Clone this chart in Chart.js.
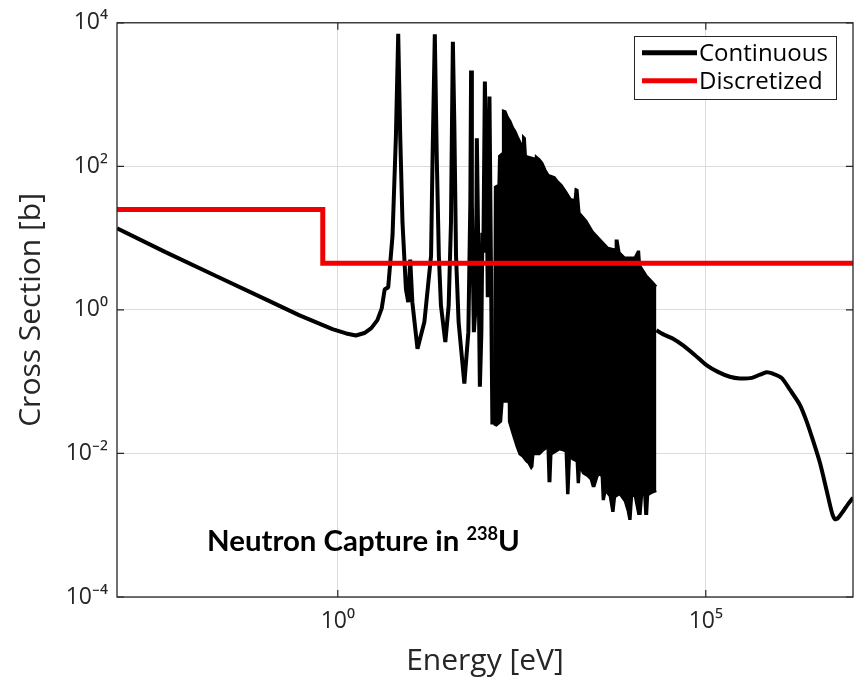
<!DOCTYPE html>
<html>
<head>
<meta charset="utf-8">
<script src="https://cdn.jsdelivr.net/npm/chart.js@4/dist/chart.umd.min.js"></script>
<style>
html,body{margin:0;padding:0;background:#fff;}
#wrap{width:858px;height:679px;}
</style>
</head>
<body>
<div id="wrap"><canvas id="c" width="858" height="679"></canvas></div>
<script>
// ---- Data (energy in eV, cross section in barns) ----
// Continuous: thermal 1/v region and the first isolated resonances
const lowE  = [1e-3, 4.56e-3, 0.0218, 0.105, 0.297, 0.845, 1.3, 1.76, 2.3, 2.85, 3.45, 3.95, 4.34, 4.84, 5.54, 6.16, 6.62, 7.05, 7.57, 8.43, 9.06, 9.64, 10.3, 12.1, 15.0, 18.5, 19.4, 20.8, 22.1, 23.6, 25.2, 28.9, 32.1, 34.5, 35.6, 36.6, 38.3, 40.4, 43.8, 52.4, 59.4, 63.2, 64.7, 66.3, 70.6, 75.2, 77.5, 81.2, 85.2, 89.3, 92.1, 95.0, 99.6, 106, 109, 115, 120, 126];
const lowXS = [13.7, 6.38, 2.99, 1.40, 0.845, 0.54, 0.47, 0.44, 0.476, 0.557, 0.72, 1.05, 1.94, 2.06, 10.8, 263, 7020, 263, 16.4, 1.95, 1.28, 5.04, 1.28, 0.288, 0.676, 5.67, 138, 6900, 138, 5.67, 1.15, 0.357, 1.15, 16.4, 399, 5430, 399, 5.67, 0.676, 0.094, 0.49, 31, 2160, 31, 0.49, 1.28, 247, 6.3, 0.085, 0.49, 11.9, 6.3, 1520, 31, 1.5, 942, 6.3, 0.0253];
// Continuous: dense resolved-resonance band, upper envelope
const topE  = [132, 136, 152, 155, 173, 175, 190, 205, 222, 240, 259, 281, 308, 313, 323, 328, 349, 360, 463, 470, 482, 490, 550, 604, 664, 729, 880, 966, 1096, 1243, 1453, 1648, 1700, 1811, 1928, 2377, 2924, 3802, 4677, 5861, 5955, 6339, 6745, 7889, 10800, 11870, 12440, 12830, 15590, 19180, 21330];
const topXS = [0.0253, 51.7, 55.1, 139, 153, 602, 583, 482, 424, 350, 308, 255, 210, 31, 31, 263, 247, 139, 130, 47, 47, 139, 126, 111, 88.9, 75.8, 71.1, 62.6, 55.1, 45.5, 35.2, 34.1, 48.5, 47, 22.5, 17.5, 12.3, 9.23, 7.38, 6.93, 9.23, 9.23, 6.30, 5.37, 5.37, 6.50, 6.50, 4.16, 3.03, 2.42, 2.13];
// Continuous: dense resolved-resonance band, lower envelope
const botE  = [132, 143, 166, 174, 199, 202, 208, 211, 238, 268, 294, 323, 362, 390, 424, 442, 456, 550, 604, 678, 706, 729, 776, 801, 1030, 1243, 1302, 1365, 1431, 1548, 1754, 1811, 1897, 1958, 2138, 2477, 2722, 2897, 3083, 3388, 3606, 3838, 3963, 4150, 4355, 4932, 5333, 5598, 5861, 6745, 7889, 8670, 9090, 9530, 9990, 10800, 12050, 13030, 13670, 14550, 15010, 15990, 16490, 18230, 21330];
const botXS = [0.0253, 0.0245, 0.0278, 0.0527, 0.0527, 0.177, 0.177, 0.0278, 0.0184, 0.0125, 0.00972, 0.00912, 0.00778, 0.0073, 0.00621, 0.00662, 0.00972, 0.00972, 0.0107, 0.0118, 0.0118, 0.00411, 0.00411, 0.00972, 0.0114, 0.0107, 0.0028, 0.0028, 0.00912, 0.00828, 0.00778, 0.00398, 0.00398, 0.00662, 0.0053, 0.00482, 0.00438, 0.0035, 0.0035, 0.00482, 0.00513, 0.00482, 0.00231, 0.00231, 0.00299, 0.00255, 0.00158, 0.00158, 0.00247, 0.00271, 0.00217, 0.00158, 0.00122, 0.00122, 0.00255, 0.00255, 0.00143, 0.00143, 0.00263, 0.00263, 0.00143, 0.00143, 0.00263, 0.0028, 0.00299];
// Continuous: unresolved / fast region
const highE  = [21330, 27700, 35900, 49100, 70800, 1.02e5, 1.46e5, 2.12e5, 2.9e5, 4.23e5, 5.43e5, 6.7e5, 8.17e5, 1.07e6, 1.39e6, 1.9e6, 2.35e6, 2.89e6, 3.57e6, 4.4e6, 5.19e6, 5.7e6, 6.26e6, 7.4e6, 8.57e6, 1e7];
const highXS = [0.519, 0.447, 0.397, 0.321, 0.236, 0.17, 0.137, 0.117, 0.111, 0.113, 0.125, 0.135, 0.129, 0.113, 0.0773, 0.0474, 0.0278, 0.0147, 0.0073, 0.003, 0.00148, 0.00121, 0.00126, 0.00158, 0.00197, 0.00241];
// Discretized (2 groups): group boundaries and group-averaged values
const groupEdges = [1e-3, 0.625, 1e7];
const groupXS    = [25, 4.48];
// Axes
const xTicks = [1, 1e5];
const yTicks = [1e-4, 1e-2, 1, 1e2, 1e4];
const xRange = [1e-3, 1e7];
const yRange = [1e-4, 1e4];
const legendLabels = ['Continuous', 'Discretized'];
const xTitle = 'Energy [eV]';
const yTitle = 'Cross Section [b]';
const noteMain = 'Neutron Capture in ';
const noteSup = '238';
const noteEnd = 'U';

const pts = (xs, ys) => xs.map((x, i) => ({x: x, y: ys[i]}));
const groupPts = () => {
  const out = [];
  groupXS.forEach((v, i) => { out.push({x: groupEdges[i], y: v}); out.push({x: groupEdges[i + 1], y: v}); });
  return out;
};
const SUP = {'0':'⁰','1':'¹','2':'²','3':'³','4':'⁴','5':'⁵','6':'⁶','7':'⁷','8':'⁸','9':'⁹','-':'⁻'};
const pow10 = v => '10' + String(Math.round(Math.log10(v))).split('').map(c => SUP[c]).join('');

const RED = 'rgb(240,0,0)';
const INK = '#262626';
const BLACK = '#000000';

const decor = {
  id: 'decor',
  beforeDraw(chart) {
    const ctx = chart.ctx;
    ctx.save();
    ctx.fillStyle = '#fff';
    ctx.fillRect(0, 0, chart.width, chart.height);
    ctx.restore();
  },
  afterDraw(chart) {
    const ctx = chart.ctx, a = chart.chartArea;
    const sx = chart.scales.x, sy = chart.scales.y;
    ctx.save();
    // axes box
    ctx.strokeStyle = INK;
    ctx.lineWidth = 1.3;
    ctx.strokeRect(a.left, a.top, a.right - a.left, a.bottom - a.top);
    // inner ticks
    ctx.lineWidth = 1.2;
    ctx.beginPath();
    xTicks.forEach(v => {
      const px = sx.getPixelForValue(v);
      ctx.moveTo(px, a.bottom); ctx.lineTo(px, a.bottom - 7);
      ctx.moveTo(px, a.top); ctx.lineTo(px, a.top + 7);
    });
    yTicks.forEach(v => {
      const py = sy.getPixelForValue(v);
      ctx.moveTo(a.left, py); ctx.lineTo(a.left + 7, py);
      ctx.moveTo(a.right, py); ctx.lineTo(a.right - 7, py);
    });
    ctx.stroke();

    // legend
    const lx = 634.5, ly = 36.5, lw = 202, lh = 63;
    ctx.fillStyle = '#fff';
    ctx.fillRect(lx, ly, lw, lh);
    ctx.strokeStyle = INK;
    ctx.lineWidth = 1;
    ctx.strokeRect(lx, ly, lw, lh);
    const rows = [{c: BLACK, y: 52.7, t: legendLabels[0]}, {c: RED, y: 80.7, t: legendLabels[1]}];
    ctx.font = '24px "Open Sans"';
    ctx.textBaseline = 'middle';
    ctx.textAlign = 'left';
    rows.forEach(r => {
      ctx.strokeStyle = r.c;
      ctx.lineWidth = 5;
      ctx.beginPath();
      ctx.moveTo(642, r.y); ctx.lineTo(697, r.y);
      ctx.stroke();
      ctx.fillStyle = '#000';
      ctx.fillText(r.t, 699, r.y + 1);
    });

    // annotation
    const targetW = 313;
    const fam = '"Lato", "Open Sans", sans-serif';
    ctx.font = 'bold 100px ' + fam;
    const w1 = ctx.measureText(noteMain).width, w3 = ctx.measureText(noteEnd).width;
    ctx.font = 'bold 62px ' + fam;
    const w2 = ctx.measureText(noteSup).width;
    const s = 100 * targetW / (w1 + w2 + w3);
    let x = 207, base = 551;
    ctx.textBaseline = 'alphabetic';
    ctx.fillStyle = '#000';
    ctx.font = 'bold ' + s.toFixed(1) + 'px ' + fam;
    ctx.fillText(noteMain, x, base);
    x += ctx.measureText(noteMain).width;
    ctx.font = 'bold ' + (s * 0.62).toFixed(1) + 'px ' + fam;
    ctx.fillText(noteSup, x, base - s * 0.36);
    x += ctx.measureText(noteSup).width;
    ctx.font = 'bold ' + s.toFixed(1) + 'px ' + fam;
    ctx.fillText(noteEnd, x, base);
    ctx.restore();
  }
};

new Chart(document.getElementById('c'), {
  type: 'line',
  data: {
    datasets: [
      {label: legendLabels[1], data: groupPts(), borderColor: RED, borderWidth: 5, pointRadius: 0, tension: 0, fill: false, borderJoinStyle: 'miter', order: 0},
      {label: legendLabels[0], data: pts(lowE, lowXS), borderColor: BLACK, borderWidth: 4, pointRadius: 0, tension: 0, fill: false, borderJoinStyle: 'bevel', order: 1},
      {label: 'band-top', data: pts(topE, topXS), borderColor: BLACK, backgroundColor: BLACK, borderWidth: 2, pointRadius: 0, tension: 0, fill: '+1', order: 2},
      {label: 'band-bottom', data: pts(botE, botXS), borderColor: BLACK, borderWidth: 2, pointRadius: 0, tension: 0, fill: false, order: 3},
      {label: 'fast', data: pts(highE, highXS), borderColor: BLACK, borderWidth: 4, pointRadius: 0, tension: 0.25, fill: false, order: 4}
    ]
  },
  options: {
    responsive: false,
    animation: false,
    events: [],
    layout: {padding: {top: 19, right: 5, left: 0, bottom: 0}},
    plugins: {legend: {display: false}, tooltip: {enabled: false}},
    scales: {
      x: {
        type: 'logarithmic', min: xRange[0], max: xRange[1],
        afterBuildTicks: s => { s.ticks = xTicks.map(v => ({value: v})); },
        afterFit: s => { s.height = 82; },
        grid: {color: '#dcdcdc', lineWidth: 1, drawTicks: false},
        border: {display: false},
        ticks: {callback: v => pow10(v), color: INK, font: {family: 'Open Sans', size: 23}, padding: 11, autoSkip: false, maxRotation: 0},
        title: {display: true, text: xTitle, color: INK, font: {family: 'Open Sans', size: 30}, padding: {top: 0, bottom: 0}}
      },
      y: {
        type: 'logarithmic', min: yRange[0], max: yRange[1],
        afterBuildTicks: s => { s.ticks = yTicks.map(v => ({value: v})); },
        afterFit: s => { s.width = 117; },
        grid: {color: '#dcdcdc', lineWidth: 1, drawTicks: false},
        border: {display: false},
        ticks: {callback: v => pow10(v), color: INK, font: {family: 'Open Sans', size: 23}, padding: 9, autoSkip: false},
        title: {display: true, text: yTitle, color: INK, font: {family: 'Open Sans', size: 30}, padding: {top: 13, bottom: 0}}
      }
    }
  },
  plugins: [decor]
});
</script>
</body>
</html>
